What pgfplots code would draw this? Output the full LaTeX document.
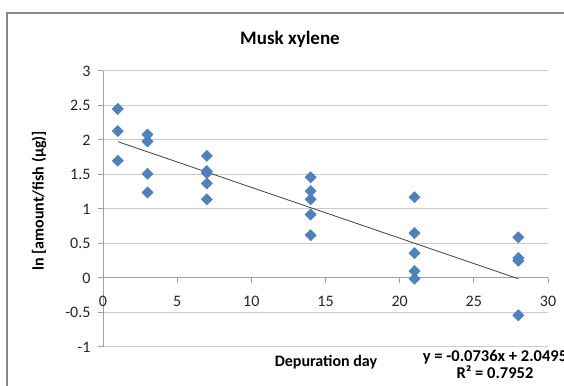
\documentclass[border=0pt]{standalone}
\usepackage{fontspec}
\setmainfont{Carlito}
\usepackage{pgfplots}
\pgfplotsset{compat=1.18}
\definecolor{exblue}{RGB}{79,129,189}
\definecolor{gridc}{RGB}{204,204,204}
\definecolor{axisc}{RGB}{160,160,160}
\definecolor{framec}{RGB}{134,134,134}
\begin{document}
\begin{tikzpicture}[x=1pt,y=1pt]
\useasboundingbox (0,0) rectangle (564,385);
\clip (0,0) rectangle (564,385);
\fill[white] (0,0) rectangle (564,385);
\draw[line width=1.5pt, color=framec] (7,372) rectangle (620,-30);
\begin{axis}[
  at={(103pt,38pt)}, anchor=south west,
  scale only axis, width=445pt, height=276pt,
  xmin=0, xmax=30, ymin=-1, ymax=3,
  axis x line=middle, axis y line=left,
  axis line style={-, draw=axisc, line width=1pt},
  xtick={0,5,...,30}, ytick={-1,-0.5,...,3},
  ymajorgrids, grid style={draw=gridc, line width=1pt},
  tick style={draw=axisc, line width=1pt},
  tick align=outside, major tick length=5pt,
  hide obscured x ticks=false, hide obscured y ticks=false,
  /pgf/number format/assume math mode=true,
  ticklabel style={font=\fontsize{16}{18}\selectfont, text=black!85},
  xticklabel style={yshift=-10pt},
  yticklabel style={xshift=-4pt},
  clip=false,
]
\addplot[only marks, mark=square*, mark size=4pt, mark options={rotate=45, fill=exblue, draw=exblue}]
coordinates {
(1,2.45) (1,2.13) (1,1.70)
(3,2.08) (3,1.98) (3,1.51) (3,1.24)
(7,1.77) (7,1.55) (7,1.52) (7,1.37) (7,1.14)
(14,1.46) (14,1.26) (14,1.14) (14,0.92) (14,0.62)
(21,1.17) (21,0.65) (21,0.36) (21,0.10) (21,-0.01)
(28,0.59) (28,0.29) (28,0.25) (28,-0.54)
};
\addplot[color=black!75, line width=0.8pt] coordinates {(1,1.9759) (28,-0.0113)};
\end{axis}
\node[anchor=base, font=\bfseries\fontsize{19}{22}\selectfont] at (290,340) {Musk xylene};
\node[rotate=90, font=\bfseries\fontsize{16}{19}\selectfont] at (39,184) {ln [amount/fish (µg)]};
\node[anchor=base, font=\bfseries\fontsize{16}{19}\selectfont] at (326,18) {Depuration day};
\node[anchor=north, inner sep=0pt, align=center, font=\bfseries\fontsize{16.5}{17.5}\selectfont] at (495,35) {y = -0.0736x + 2.0495\\R² = 0.7952};
\end{tikzpicture}
\end{document}
